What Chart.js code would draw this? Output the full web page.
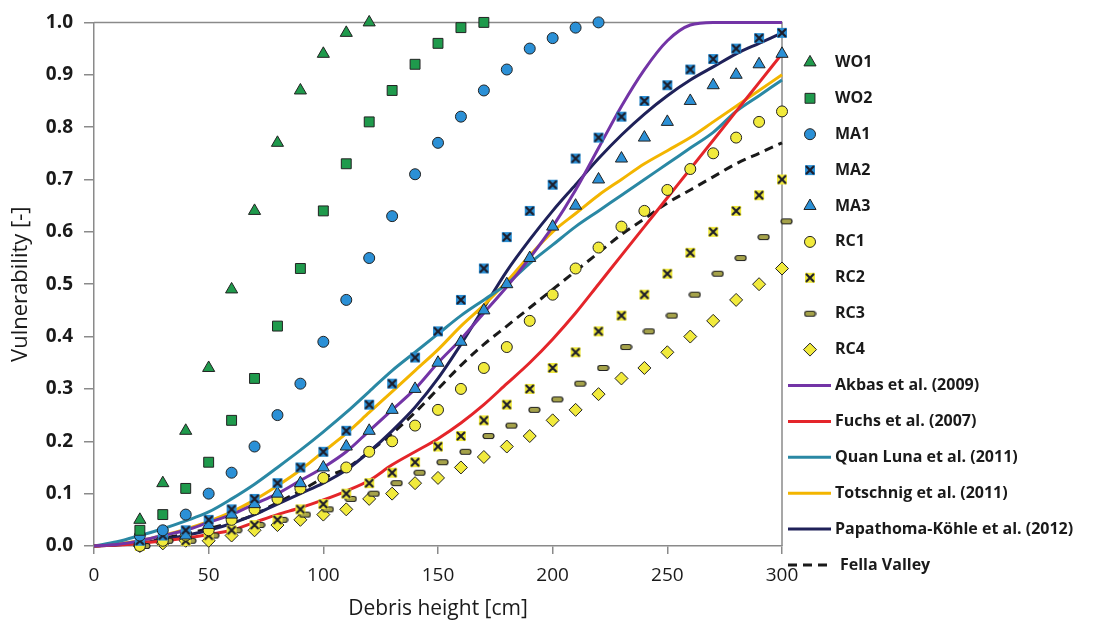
<!DOCTYPE html>
<html>
<head>
<meta charset="utf-8">
<title>Vulnerability curves</title>
<script src="https://cdn.jsdelivr.net/npm/chart.js@4.4.1/dist/chart.umd.min.js"></script>
<style>
  html, body { margin: 0; padding: 0; background: #fff; }
  #wrap { width: 1096px; height: 633px; }
</style>
</head>
<body>
<div id="wrap"><canvas id="grafico" width="1096" height="633"></canvas></div>
<script>
// debris height (cm) of the sampled points
var alturas = [20, 30, 40, 50, 60, 70, 80, 90, 100, 110, 120, 130, 140, 150, 160, 170, 180, 190, 200, 210, 220, 230, 240, 250, 260, 270, 280, 290, 300]
var alturasRC3 = [22, 32, 42, 52, 62, 72, 82, 92, 102, 112, 122, 132, 142, 152, 162, 172, 182, 192, 202, 212, 222, 232, 242, 252, 262, 272, 282, 292, 302]
// x grid of the fitted curves
var alturasCurva = [0, 10, 20, 30, 40, 50, 60, 70, 80, 90, 100, 110, 120, 130, 140, 150, 160, 170, 180, 190, 200, 210, 220, 230, 240, 250, 260, 270, 280, 290, 300]

var wo1 = [0.05, 0.12, 0.22, 0.34, 0.49, 0.64, 0.77, 0.87, 0.94, 0.98, 1.0]
var wo2 = [0.03, 0.06, 0.11, 0.16, 0.24, 0.32, 0.42, 0.53, 0.64, 0.73, 0.81, 0.87, 0.92, 0.96, 0.99, 1.0]
var ma1 = [0.02, 0.03, 0.06, 0.10, 0.14, 0.19, 0.25, 0.31, 0.39, 0.47, 0.55, 0.63, 0.71, 0.77, 0.82, 0.87, 0.91, 0.95, 0.97, 0.99, 1.0]
var ma2 = [0.01, 0.02, 0.03, 0.05, 0.07, 0.09, 0.12, 0.15, 0.18, 0.22, 0.27, 0.31, 0.36, 0.41, 0.47, 0.53, 0.59, 0.64, 0.69, 0.74, 0.78, 0.82, 0.85, 0.88, 0.91, 0.93, 0.95, 0.97, 0.98]
var ma3 = [0.01, 0.02, 0.02, 0.04, 0.06, 0.08, 0.10, 0.12, 0.15, 0.19, 0.22, 0.26, 0.30, 0.35, 0.39, 0.45, 0.50, 0.55, 0.61, 0.65, 0.70, 0.74, 0.78, 0.81, 0.85, 0.88, 0.90, 0.92, 0.94]
var rc1 = [0.0, 0.01, 0.02, 0.03, 0.05, 0.07, 0.09, 0.11, 0.13, 0.15, 0.18, 0.20, 0.23, 0.26, 0.30, 0.34, 0.38, 0.43, 0.48, 0.53, 0.57, 0.61, 0.64, 0.68, 0.72, 0.75, 0.78, 0.81, 0.83]
var rc2 = [0.0, 0.01, 0.01, 0.02, 0.03, 0.04, 0.05, 0.07, 0.08, 0.10, 0.12, 0.14, 0.16, 0.19, 0.21, 0.24, 0.27, 0.30, 0.34, 0.37, 0.41, 0.44, 0.48, 0.52, 0.56, 0.60, 0.64, 0.67, 0.70]
var rc3 = [0.0, 0.01, 0.01, 0.02, 0.03, 0.04, 0.05, 0.06, 0.07, 0.09, 0.10, 0.12, 0.14, 0.16, 0.18, 0.21, 0.23, 0.26, 0.28, 0.31, 0.34, 0.38, 0.41, 0.44, 0.48, 0.52, 0.55, 0.59, 0.62]
var rc4 = [0.0, 0.005, 0.01, 0.01, 0.02, 0.03, 0.04, 0.05, 0.06, 0.07, 0.09, 0.10, 0.12, 0.13, 0.15, 0.17, 0.19, 0.21, 0.24, 0.26, 0.29, 0.32, 0.34, 0.37, 0.40, 0.43, 0.47, 0.50, 0.53]

var akbas = [0, 0.003, 0.01, 0.02, 0.03, 0.045, 0.06, 0.08, 0.10, 0.125, 0.15, 0.18, 0.22, 0.26, 0.30, 0.35, 0.395, 0.445, 0.495, 0.55, 0.61, 0.68, 0.76, 0.84, 0.91, 0.965, 0.995, 1.0, 1.0, 1.0, 1.0]
var fuchs = [0, 0.002, 0.005, 0.01, 0.015, 0.022, 0.03, 0.045, 0.06, 0.073, 0.088, 0.105, 0.125, 0.155, 0.18, 0.205, 0.235, 0.27, 0.31, 0.35, 0.395, 0.445, 0.5, 0.555, 0.61, 0.665, 0.72, 0.775, 0.83, 0.885, 0.94]
var quanLuna = [0, 0.008, 0.02, 0.033, 0.048, 0.065, 0.09, 0.118, 0.15, 0.183, 0.218, 0.255, 0.295, 0.335, 0.37, 0.405, 0.44, 0.47, 0.50, 0.54, 0.575, 0.61, 0.64, 0.67, 0.70, 0.73, 0.76, 0.79, 0.83, 0.86, 0.89]
var totschnig = [0, 0.004, 0.01, 0.02, 0.032, 0.047, 0.065, 0.088, 0.115, 0.145, 0.18, 0.215, 0.255, 0.295, 0.335, 0.375, 0.42, 0.46, 0.505, 0.555, 0.60, 0.635, 0.67, 0.70, 0.73, 0.755, 0.78, 0.81, 0.84, 0.87, 0.90]
var papathoma = [0, 0.002, 0.006, 0.012, 0.02, 0.03, 0.043, 0.06, 0.08, 0.10, 0.12, 0.145, 0.18, 0.22, 0.265, 0.32, 0.385, 0.455, 0.525, 0.585, 0.64, 0.69, 0.74, 0.785, 0.825, 0.86, 0.89, 0.915, 0.94, 0.96, 0.98]
var fella = [0, 0.003, 0.008, 0.015, 0.023, 0.033, 0.045, 0.06, 0.083, 0.105, 0.13, 0.148, 0.18, 0.215, 0.255, 0.30, 0.345, 0.385, 0.42, 0.455, 0.49, 0.525, 0.56, 0.595, 0.625, 0.655, 0.68, 0.705, 0.73, 0.75, 0.77]

var verde = '#1f9a4c'
var azul = '#2b90d6'
var amarillo = '#f1ea3c'
var borde = '#222222'

// small canvases for the markers Chart.js has no shape for
var marcador = (w, h, dibujar) => {
  var c = document.createElement('canvas')
  c.width = w
  c.height = h
  dibujar(c.getContext('2d'))
  return c
}
var cruzEnCuadro = (fondo) => marcador(12, 12, (g) => {
  g.fillStyle = fondo
  g.fillRect(1, 1, 10, 10)
  g.strokeStyle = '#1d1d2a'
  g.lineWidth = 2.2
  g.beginPath()
  g.moveTo(2, 2); g.lineTo(10, 10)
  g.moveTo(10, 2); g.lineTo(2, 10)
  g.stroke()
})
var guion = marcador(13, 8, (g) => {
  g.fillStyle = '#a5a24a'
  g.strokeStyle = borde
  g.lineWidth = 1.2
  g.beginPath()
  g.roundRect(1, 1.5, 11, 5, 2.5)
  g.fill()
  g.stroke()
})

var puntos = (xs, ys) => ys.map((v, i) => ({ x: xs[i], y: v }))

var serieMarcas = (label, ys, estilo, color, radio, xs) => ({
  label: label,
  data: puntos(xs || alturas, ys),
  showLine: false,
  pointStyle: estilo,
  pointRadius: radio,
  pointHoverRadius: radio,
  pointBackgroundColor: color,
  pointBorderColor: borde,
  pointBorderWidth: 1,
  clip: false
})

var serieCurva = (label, ys, color, dash) => ({
  label: label,
  data: puntos(alturasCurva, ys),
  showLine: true,
  borderColor: color,
  borderWidth: 3,
  borderDash: dash || [],
  pointRadius: 0,
  cubicInterpolationMode: 'monotone',
  clip: false
})

var datasets = [
  serieMarcas('WO1', wo1, 'triangle', verde, 7),
  serieMarcas('WO2', wo2, 'rect', verde, 7),
  serieMarcas('MA1', ma1, 'circle', azul, 5.5),
  serieMarcas('MA2', ma2, cruzEnCuadro(azul), azul, 6),
  serieMarcas('MA3', ma3, 'triangle', azul, 7),
  serieMarcas('RC1', rc1, 'circle', amarillo, 5.5),
  serieMarcas('RC2', rc2, cruzEnCuadro(amarillo), amarillo, 6),
  serieMarcas('RC3', rc3, guion, amarillo, 6, alturasRC3),
  serieMarcas('RC4', rc4, 'rectRot', amarillo, 6.5),
  serieCurva('Akbas et al. (2009)', akbas, '#7334a6'),
  serieCurva('Fuchs et al. (2007)', fuchs, '#e4252a'),
  serieCurva('Quan Luna et al. (2011)', quanLuna, '#2a88a4'),
  serieCurva('Totschnig et al. (2011)', totschnig, '#f3b500'),
  serieCurva('Papathoma-Köhle et al. (2012)', papathoma, '#1f2159'),
  serieCurva('Fella Valley', fella, '#1a1a1a', [9, 6])
]

var gris = '#8a8a8a'

// top and right edges of the plot box
var marco = {
  id: 'marco',
  beforeDatasetsDraw: (chart) => {
    var a = chart.chartArea
    var ctx = chart.ctx
    ctx.save()
    ctx.strokeStyle = gris
    ctx.lineWidth = 1.5
    ctx.beginPath()
    ctx.moveTo(a.left, a.top)
    ctx.lineTo(a.right, a.top)
    ctx.lineTo(a.right, a.bottom)
    ctx.stroke()
    ctx.restore()
  }
}

// legend column to the right of the plot
var leyenda = {
  id: 'leyenda',
  afterDraw: (chart) => {
    var a = chart.chartArea
    var ctx = chart.ctx
    var x0 = a.right + 28
    var y0 = a.top + 40
    var paso = 35.9
    ctx.save()
    ctx.font = '700 16px "Open Sans"'
    ctx.textBaseline = 'middle'
    chart.data.datasets.forEach((ds, i) => {
      var y = y0 + i * paso
      if (ds.showLine) {
        ctx.save()
        ctx.strokeStyle = ds.borderColor
        ctx.lineWidth = ds.borderWidth
        ctx.setLineDash(ds.borderDash)
        ctx.beginPath()
        ctx.moveTo(x0 - 22, y)
        ctx.lineTo(x0 + (ds.borderDash.length ? 18 : 21), y)
        ctx.stroke()
        ctx.restore()
      } else {
        ctx.save()
        ctx.fillStyle = ds.pointBackgroundColor
        ctx.strokeStyle = ds.pointBorderColor
        ctx.lineWidth = ds.pointBorderWidth
        Chart.helpers.drawPoint(ctx, {
          pointStyle: ds.pointStyle,
          radius: ds.pointRadius,
          borderWidth: ds.pointBorderWidth,
          rotation: 0
        }, x0, y)
        ctx.restore()
      }
      ctx.fillStyle = '#1a1a1a'
      ctx.fillText(ds.label, x0 + (ds.borderDash && ds.borderDash.length ? 30 : 25), y)
    })
    ctx.restore()
  }
}

new Chart(document.getElementById('grafico'), {
  type: 'scatter',
  data: { datasets: datasets },
  plugins: [marco, leyenda],
  options: {
    responsive: false,
    animation: false,
    devicePixelRatio: 1,
    layout: { padding: { top: 22, right: 314, left: 0, bottom: 0 } },
    plugins: {
      legend: { display: false },
      tooltip: { enabled: false }
    },
    scales: {
      x: {
        type: 'linear',
        min: 0,
        max: 300,
        afterFit: (s) => { s.height = 87 },
        ticks: {
          stepSize: 50,
          color: '#1a1a1a',
          padding: 10,
          maxRotation: 0,
          font: { family: 'Open Sans', size: 19 }
        },
        grid: { drawOnChartArea: false, tickLength: 8, color: gris, lineWidth: 1.5 },
        border: { color: gris, width: 1.5 },
        title: {
          display: true,
          text: 'Debris height [cm]',
          color: '#1a1a1a',
          font: { family: 'Open Sans', size: 21 },
          padding: { top: 0, bottom: 11 }
        }
      },
      y: {
        type: 'linear',
        min: 0,
        max: 1,
        afterFit: (s) => { s.width = 94 },
        ticks: {
          stepSize: 0.1,
          color: '#1a1a1a',
          padding: 11,
          font: { family: 'Open Sans', size: 19, weight: '700' },
          callback: (v) => v.toFixed(1)
        },
        grid: { drawOnChartArea: false, tickLength: 10, color: gris, lineWidth: 1.5 },
        border: { color: gris, width: 1.5 },
        title: {
          display: true,
          text: 'Vulnerability [-]',
          color: '#1a1a1a',
          font: { family: 'Open Sans', size: 22 },
          padding: { top: 8, bottom: 0 }
        }
      }
    }
  }
})
</script>
</body>
</html>
